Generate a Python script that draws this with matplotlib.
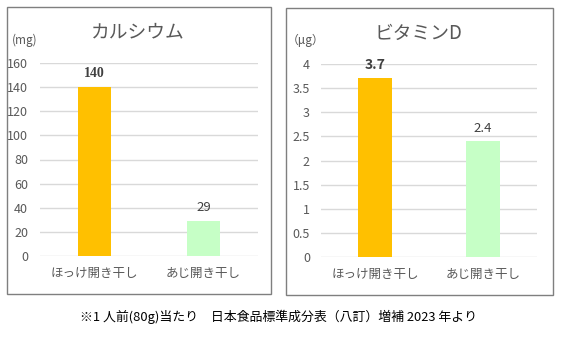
import matplotlib
matplotlib.use("Agg")
import matplotlib.pyplot as plt
from matplotlib.patches import Rectangle

plt.rcParams['font.family'] = ['Noto Sans CJK JP', 'DejaVu Sans']

categories = ["ほっけ開き干し", "あじ開き干し"]
calcium = [140, 29]
vitd = [3.7, 2.4]
colors = ["#FFC000", "#C6FFC6"]
ca_ticks = [0, 20, 40, 60, 80, 100, 120, 140, 160]
vd_ticks = [0, 0.5, 1, 1.5, 2, 2.5, 3, 3.5, 4]
vd_ticklabels = ["0", "0.5", "1", "1.5", "2", "2.5", "3", "3.5", "4"]

W, H = 580, 337
fig = plt.figure(figsize=(W/100, H/100), dpi=100)

def px_axes(x0, y0, x1, y1):
    return fig.add_axes([x0/W, 1 - y1/H, (x1-x0)/W, (y1-y0)/H])

def border(x0, y0, x1, y1):
    fig.patches.append(Rectangle((x0/W, 1-y1/H), (x1-x0)/W, (y1-y0)/H,
                                 transform=fig.transFigure, fill=False,
                                 edgecolor="#7F7F7F", linewidth=1.0))

border(6.5, 6.5, 270.5, 293.5)
border(285.5, 7.5, 552.5, 294.5)

def setup(ax, ticks, ticklabels, ymax, pad):
    ax.set_xlim(-0.5, 1.5)
    ax.set_ylim(0, ymax)
    ax.set_yticks(ticks)
    ax.set_yticklabels(ticklabels)
    ax.set_xticks([0, 1])
    ax.set_xticklabels(categories)
    for s in ax.spines.values():
        s.set_visible(False)
    ax.tick_params(axis='y', length=0, pad=pad, labelsize=9, labelcolor="#595959")
    ax.tick_params(axis='x', length=0, pad=8, labelsize=9, labelcolor="#595959")
    ax.yaxis.grid(True, color="#D9D9D9", linewidth=1.0)
    ax.set_axisbelow(True)
    ax.patch.set_alpha(0)

# Calcium
ax1 = px_axes(40, 63, 258, 256)
ax1.bar(range(2), calcium, width=0.31, color=colors, zorder=2)
setup(ax1, ca_ticks, [str(t) for t in ca_ticks], 160, 8.5)
ax1.text(0, calcium[0] + 6, "140", ha='center', va='bottom', fontsize=10,
         fontweight='bold', family=['Liberation Serif'], color="#404040")
ax1.text(1, calcium[1] + 6, "29", ha='center', va='bottom', fontsize=9.5,
         color="#404040")
fig.text(138/W, 1 - 32/H, "カルシウム", ha='center', va='center', fontsize=13.5,
         color="#595959")
fig.text(25/W, 1 - 40/H, "(mg)", ha='center', va='center', fontsize=8.5,
         color="#595959")

# Vitamin D
ax2 = px_axes(321, 64, 537, 257)
ax2.bar(range(2), vitd, width=0.31, color=colors, zorder=2)
setup(ax2, vd_ticks, vd_ticklabels, 4, 8)
ax2.text(0, vitd[0] + 0.13, "3.7", ha='center', va='bottom', fontsize=10,
         fontweight='bold', color="#404040")
ax2.text(1, vitd[1] + 0.13, "2.4", ha='center', va='bottom', fontsize=9.5,
         color="#404040")
fig.text(418/W, 1 - 33/H, "ビタミンD", ha='center', va='center', fontsize=13.5,
         color="#595959")
fig.text(306/W, 1 - 40/H, "（μg）", ha='center', va='center', fontsize=8.5,
         color="#595959")

fig.text(278/W, 1 - 317/H, "※1 人前(80g)当たり　日本食品標準成分表（八訂）増補 2023 年より",
         ha='center', va='center', fontsize=9.3, color="#000000")

fig.savefig("out.png", dpi=100)
